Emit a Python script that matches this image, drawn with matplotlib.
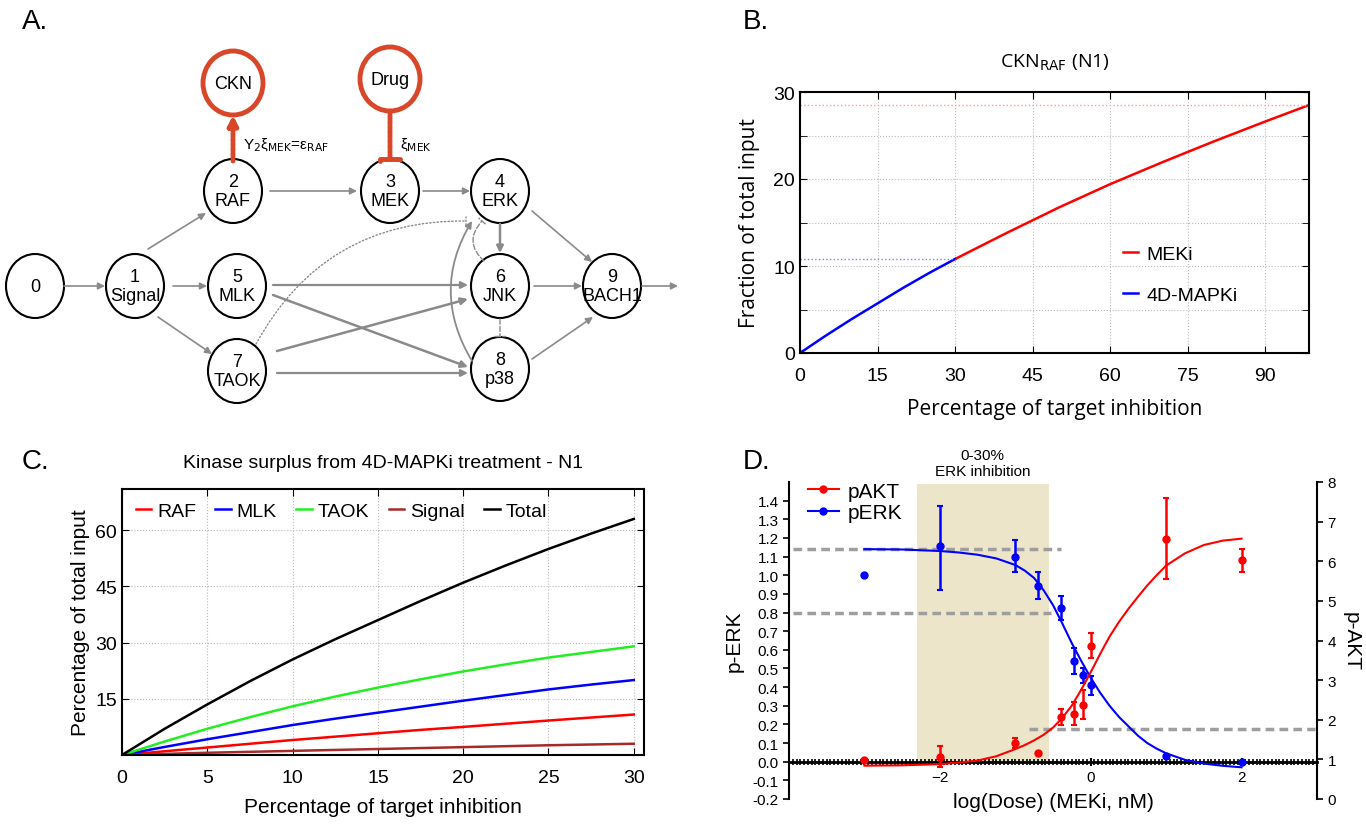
import numpy as np
import matplotlib.pyplot as plt
from matplotlib.patches import Ellipse
from matplotlib.ticker import MultipleLocator

plt.rcParams['font.family'] = ['Liberation Sans', 'DejaVu Sans']

# ---------------- data ----------------
# Panel B: CKN_RAF fraction of total input vs target inhibition
b_x_4d = [0, 5, 10, 15, 20, 25, 30]
b_y_4d = [0, 2.0, 3.9, 5.7, 7.5, 9.2, 10.8]
b_x_mek = [30, 40, 50, 60, 70, 80, 90, 98.5]
b_y_mek = [10.8, 13.8, 16.7, 19.4, 21.9, 24.3, 26.6, 28.5]

# Panel C: kinase surplus (percentage of total input)
c_x = [0, 2.5, 5, 7.5, 10, 12.5, 15, 17.5, 20, 22.5, 25, 27.5, 30]
c_raf = [0, 1.0, 2.0, 3.0, 4.0, 4.9, 5.8, 6.7, 7.5, 8.35, 9.2, 10.0, 10.8]
c_mlk = [0, 2.15, 4.2, 6.1, 8.0, 9.7, 11.3, 12.9, 14.5, 16.0, 17.5, 18.8, 20.0]
c_taok = [0, 3.6, 7.0, 10.1, 13.0, 15.6, 18.0, 20.2, 22.3, 24.2, 26.0, 27.5, 29.0]
c_signal = [0, 0.3, 0.6, 0.85, 1.1, 1.35, 1.6, 1.85, 2.1, 2.35, 2.6, 2.8, 3.0]
c_total = [0, 7.0, 13.5, 19.7, 25.5, 30.9, 36.0, 41.1, 46.0, 50.6, 55.0, 59.1, 63.0]

# Panel D: dose response
d_erk_x = [-3, -2, -1, -0.7, -0.4, -0.22, -0.1, 0, 1, 2]
d_erk_y = [1.00, 1.155, 1.10, 0.94, 0.825, 0.54, 0.465, 0.41, 0.03, 0.0]
d_erk_lo = [1.00, 0.92, 1.02, 0.87, 0.76, 0.47, 0.42, 0.36, 0.03, 0.0]
d_erk_hi = [1.00, 1.37, 1.19, 1.02, 0.89, 0.61, 0.50, 0.46, 0.03, 0.0]
d_akt_x = [-3, -2, -1, -0.7, -0.4, -0.22, -0.1, 0, 1, 2]
d_akt_y = [0.99, 1.07, 1.41, 1.15, 2.06, 2.15, 2.38, 3.87, 6.57, 6.02]
d_akt_lo = [0.99, 0.80, 1.28, 1.15, 1.86, 1.88, 2.03, 3.56, 5.54, 5.73]
d_akt_hi = [0.99, 1.33, 1.53, 1.15, 2.26, 2.45, 2.75, 4.18, 7.60, 6.31]
fit_x = [-3, -2.5, -2, -1.75, -1.5, -1.25, -1, -0.875, -0.75, -0.625, -0.5, -0.375,
         -0.25, -0.125, 0, 0.125, 0.25, 0.375, 0.5, 0.625, 0.75, 0.875, 1, 1.25,
         1.5, 1.75, 2]
fit_erk = [1.14, 1.138, 1.13, 1.122, 1.11, 1.09, 1.055, 1.025, 0.985, 0.92, 0.84, 0.74,
           0.635, 0.54, 0.45, 0.37, 0.30, 0.24, 0.19, 0.14, 0.10, 0.07, 0.045, 0.01,
           -0.01, -0.022, -0.03]
fit_akt = [0.84, 0.85, 0.88, 0.92, 0.97, 1.08, 1.26, 1.36, 1.48, 1.62, 1.80, 2.05,
           2.36, 2.76, 3.20, 3.66, 4.10, 4.47, 4.80, 5.10, 5.39, 5.65, 5.89, 6.2,
           6.41, 6.52, 6.57]

fig = plt.figure(figsize=(13.66, 8.29), dpi=100)

# ---------------- panel letters ----------------
for lab, px, py in [('A.', 22, 22), ('B.', 743, 22), ('C.', 22, 462), ('D.', 743, 462)]:
    fig.text(px / 1366, 1 - py / 829, lab, fontsize=20, va='center', ha='left')

# ---------------- panel A: network ----------------
axa = fig.add_axes([0, 1 - 420 / 829, 700 / 1366, 380 / 829])
axa.set_xlim(0, 700)
axa.set_ylim(420, 40)
axa.axis('off')

gray = '#8a8a8a'
red = '#d9472b'
nodes = [('0', 35, 287), ('1\nSignal', 135, 287), ('2\nRAF', 233, 192),
         ('5\nMLK', 237, 287), ('7\nTAOK', 237, 372), ('3\nMEK', 390, 192),
         ('4\nERK', 500, 192), ('6\nJNK', 500, 287), ('8\np38', 500, 370),
         ('9\nBACH1', 612, 287)]
for txt, x, y in nodes:
    axa.add_patch(Ellipse((x, y), 58, 64, fill=False, ec='black', lw=1.5))
    axa.text(x, y, txt, ha='center', va='center', fontsize=13, linespacing=1.1)
for txt, x, y in [('CKN', 233, 84), ('Drug', 390, 80)]:
    axa.add_patch(Ellipse((x, y), 60, 64, fill=False, ec=red, lw=3.5))
    axa.text(x, y, txt, ha='center', va='center', fontsize=13)


def arrow(p0, p1, lw=1.2, style='-|>', rad=0.0, ls='-', color=gray, ms=10):
    axa.annotate('', xy=p1, xytext=p0,
                 arrowprops=dict(arrowstyle=style, color=color, lw=lw, ls=ls,
                                 mutation_scale=ms, shrinkA=0, shrinkB=0,
                                 connectionstyle='arc3,rad=%s' % rad))


arrow((64, 287), (105, 287))
arrow((148, 250), (206, 214))
arrow((173, 287), (207, 287))
arrow((158, 318), (212, 355))
arrow((270, 192), (357, 192))
arrow((423, 192), (470, 192))
arrow((500, 225), (500, 254), lw=1.8)
arrow((532, 212), (592, 263))
arrow((273, 286), (468, 286), lw=1.6)
arrow((273, 296), (468, 368), lw=1.8)
arrow((277, 352), (468, 300), lw=1.8)
arrow((277, 374), (468, 374), lw=1.6)
arrow((534, 287), (582, 287))
arrow((532, 360), (593, 318))
arrow((642, 287), (678, 287))
arrow((256, 345), (466, 222), style='-[,widthB=0.3,lengthB=0', rad=-0.3, ls=':', lw=1.0)
arrow((472, 362), (472, 222), lw=1.3, rad=-0.3)
arrow((484, 262), (482, 222), style='-[,widthB=0.3,lengthB=0', rad=-0.5, ls='--', lw=1.0)
arrow((500, 320), (500, 337), style='-[,widthB=0.35,lengthB=0', ls='--', lw=1.0)
# drug / CKN links
arrow((233, 162), (233, 116), lw=3.5, style='-|>', ls=(0, (0.6, 0.4)), color=red, ms=14)
arrow((390, 112), (390, 160), lw=3.5, style='-[,widthB=0.5,lengthB=0.1', ls=(0, (0.6, 0.4)), color=red, ms=14)
axa.text(243, 145, r'Y$_2$ξ$_{\mathrm{MEK}}$=ε$_{\mathrm{RAF}}$', fontsize=11, va='center')
axa.text(400, 145, r'ξ$_{\mathrm{MEK}}$', fontsize=11, va='center')

# ---------------- panel B ----------------
axb = fig.add_axes([800 / 1366, 1 - 354 / 829, 509 / 1366, 261 / 829])
axb.plot(b_x_mek, b_y_mek, color='red', lw=1.8, label='MEKi')
axb.plot(b_x_4d, b_y_4d, color='blue', lw=1.8, label='4D-MAPKi')
axb.plot([0, b_x_mek[-1]], [b_y_mek[-1]] * 2, color='#ff9999', ls=':', lw=1)
axb.plot([0, b_x_4d[-1]], [b_y_4d[-1]] * 2, color='#8080ff', ls=':', lw=1)
axb.set_xlim(0, 98.5)
axb.set_ylim(0, 30)
axb.set_xticks([0, 15, 30, 45, 60, 75, 90])
axb.set_yticks([0, 10, 20, 30])
axb.yaxis.set_minor_locator(MultipleLocator(5))
axb.grid(True, which='both', color='#bbbbbb', ls=':', lw=0.8)
axb.tick_params(which='both', direction='in', top=True, right=True, labelsize=14, length=5)
axb.tick_params(axis='x', pad=10)
for s in axb.spines.values():
    s.set_linewidth(1.5)
axb.set_xlabel('Percentage of target inhibition', fontsize=15, family='Open Sans', labelpad=10)
axb.set_ylabel('Fraction of total input', fontsize=15, family='Open Sans', labelpad=10)
axb.set_title(r'CKN$_{\mathrm{RAF}}$ (N1)', fontsize=14, family='Open Sans', pad=18)
axb.legend(loc='center left', bbox_to_anchor=(0.6, 0.3), frameon=False, fontsize=14,
           handlelength=0.8, handletextpad=0.4, labelspacing=1.2)

# ---------------- panel C ----------------
axc = fig.add_axes([122 / 1366, 1 - 756 / 829, 522 / 1366, 266 / 829])
axc.plot(c_x, c_raf, color='red', lw=1.8, label='RAF')
axc.plot(c_x, c_mlk, color='blue', lw=1.8, label='MLK')
axc.plot(c_x, c_taok, color='#22ee22', lw=1.8, label='TAOK')
axc.plot(c_x, c_signal, color='#a52a2a', lw=1.8, label='Signal')
axc.plot(c_x, c_total, color='black', lw=1.8, label='Total')
axc.set_xlim(0, 30.6)
axc.set_ylim(0, 71)
axc.set_xticks([0, 5, 10, 15, 20, 25, 30])
axc.set_yticks([15, 30, 45, 60])
axc.grid(True, color='#bbbbbb', ls=':', lw=0.8)
axc.tick_params(direction='in', top=True, right=True, labelsize=14, length=5)
axc.tick_params(axis='x', pad=10)
for s in axc.spines.values():
    s.set_linewidth(1.5)
axc.set_xlabel('Percentage of target inhibition', fontsize=15, labelpad=8)
axc.set_ylabel('Percentage of total input', fontsize=15)
axc.set_title('Kinase surplus from 4D-MAPKi treatment - N1', fontsize=14, pad=16)
axc.legend(loc='upper left', ncol=5, frameon=False, fontsize=14, handlelength=0.8,
           handletextpad=0.3, columnspacing=1.0, borderaxespad=0.3)

# ---------------- panel D ----------------
axd = fig.add_axes([789 / 1366, 1 - 800 / 829, 528 / 1366, 317 / 829])
axd2 = axd.twinx()
axd.set_xlim(-4, 3)
axd.set_ylim(-0.2, 1.5)
axd2.set_ylim(0, 8)

axd.fill_between([-2.3, -0.55], 0, 1.49, color='#ece5c9', lw=0, zorder=0)
axd.text(-1.43, 1.52, '0-30%\nERK inhibition', ha='center', va='bottom', fontsize=11)
dash = dict(color='#9e9e9e', ls=(0, (2.5, 1.5)), lw=2.5, zorder=1)
axd.plot([-3.95, -0.39], [1.14, 1.14], **dash)
axd.plot([-3.95, -0.53], [0.80, 0.80], **dash)
axd.plot([-0.82, 2.97], [0.177, 0.177], **dash)

axd.plot(fit_x, fit_erk, color='blue', lw=1.5, zorder=3)
axd2.plot(fit_x, fit_akt, color='red', lw=1.5, zorder=3)
erk_err = [np.subtract(d_erk_y, d_erk_lo), np.subtract(d_erk_hi, d_erk_y)]
akt_err = [np.subtract(d_akt_y, d_akt_lo), np.subtract(d_akt_hi, d_akt_y)]
axd.errorbar(d_erk_x, d_erk_y, yerr=erk_err, fmt='o', color='blue', ms=5,
             capsize=2.5, elinewidth=1.8, capthick=1.5, zorder=4)
axd2.errorbar(d_akt_x, d_akt_y, yerr=akt_err, fmt='o', color='red', ms=5,
              capsize=2.5, elinewidth=1.8, capthick=1.5, zorder=4)

axd.spines['top'].set_visible(False)
axd.spines['right'].set_visible(False)
axd2.spines['top'].set_visible(False)
axd2.spines['left'].set_visible(False)
axd2.spines['bottom'].set_visible(False)
axd.spines['bottom'].set_position(('data', 0))
axd.spines['bottom'].set_linewidth(2)
axd.spines['left'].set_linewidth(1.5)
axd2.spines['right'].set_linewidth(1.5)
axd.set_xticks([-2, 0, 2])
axd.xaxis.set_minor_locator(MultipleLocator(0.05))
axd.tick_params(axis='x', which='major', direction='inout', length=6, width=1.5, labelsize=11, pad=3)
axd.tick_params(axis='x', which='minor', direction='inout', length=4, width=1.2)
yt = np.round(np.arange(-0.2, 1.41, 0.1), 1)
axd.set_yticks(yt)
axd.set_yticklabels(['%.1f' % v for v in yt])
axd.tick_params(axis='y', direction='out', length=4, width=1.2, labelsize=11)
axd2.set_yticks(range(0, 9))
axd2.tick_params(axis='y', direction='out', length=4, width=1.2, labelsize=11)
axd.set_ylabel('p-ERK', fontsize=15, labelpad=6)
axd2.set_ylabel('p-AKT', fontsize=15, rotation=270, labelpad=18)
axd.text(0.5, -0.008, 'log(Dose) (MEKi, nM)', fontsize=15, ha='center', va='center',
         transform=axd.transAxes)

h1 = plt.Line2D([], [], color='red', marker='o', ms=5, lw=1.5)
h2 = plt.Line2D([], [], color='blue', marker='o', ms=5, lw=1.5)
axd.legend([h1, h2], ['pAKT', 'pERK'], loc='upper left', bbox_to_anchor=(0.0, 1.06),
           frameon=False, fontsize=15, handlelength=1.5, handletextpad=0.4, labelspacing=0.1)

fig.savefig('out.png', dpi=100)
